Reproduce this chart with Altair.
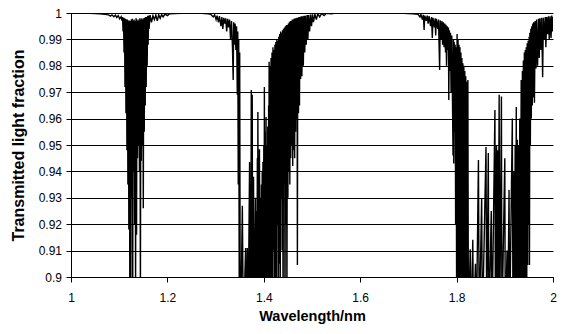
import altair as alt
import pandas as pd

# ---- data (wavelength, transmitted fraction) ----
WL_START = [1.000, 1.020, 1.040, 1.060, 1.070, 1.078, 1.082, 1.085, 1.089, 1.092,
            1.095, 1.098, 1.101, 1.104, 1.106]
TR_START = [1.0000, 0.9999, 0.9999, 0.9997, 0.9995, 0.9993, 0.9988, 0.9993, 0.9986, 0.9992,
            0.9983, 0.9990, 0.9978, 0.9986, 0.9970]

WL_BAND1 = [1.107, 1.108, 1.109, 1.110, 1.111, 1.112, 1.113, 1.114, 1.115, 1.116,
            1.117, 1.118, 1.119, 1.120, 1.121, 1.122, 1.123, 1.124, 1.125, 1.126,
            1.127, 1.128, 1.129, 1.130, 1.131, 1.132, 1.133, 1.134, 1.135, 1.136,
            1.137, 1.138, 1.139, 1.140, 1.141, 1.142, 1.143, 1.144, 1.145, 1.146,
            1.147, 1.148, 1.149, 1.150, 1.151, 1.152, 1.153, 1.154, 1.155, 1.156,
            1.157, 1.158, 1.159, 1.160, 1.161, 1.162,
            1.164, 1.167, 1.170, 1.173, 1.176, 1.179, 1.182, 1.185, 1.188, 1.191,
            1.195, 1.200, 1.205, 1.215, 1.230, 1.250, 1.270, 1.285]
TR_BAND1 = [0.9985, 0.9930, 0.9982, 0.9850, 0.9980, 0.9720, 0.9978, 0.9620, 0.9975, 0.9480,
            0.9975, 0.9350, 0.9972, 0.9180, 0.9972, 0.8950, 0.9970, 0.8900, 0.9975, 0.9300,
            0.9978, 0.8900, 0.9972, 0.9400, 0.9975, 0.9200, 0.9970, 0.8950, 0.9980, 0.9160,
            0.9975, 0.9450, 0.9970, 0.9500, 0.9975, 0.9400, 0.9980, 0.8900, 0.9975, 0.9440,
            0.9980, 0.9500, 0.9975, 0.9260, 0.9980, 0.9550, 0.9982, 0.9650, 0.9985, 0.9720,
            0.9985, 0.9800, 0.9990, 0.9880, 0.9990, 0.9940,
            0.9992, 0.9965, 0.9990, 0.9975, 0.9992, 0.9970, 0.9993, 0.9980, 0.9994, 0.9985,
            0.9996, 0.9990, 0.9997, 0.9998, 0.9999, 1.0000, 0.9999, 0.9997]

WL_BAND2_LEFT = [1.2900, 1.2950, 1.2980, 1.3010, 1.3030, 1.3060, 1.3080, 1.3110, 1.3130, 1.3150,
                 1.3170, 1.3190, 1.3210, 1.3230, 1.3250, 1.3270, 1.3290, 1.3310, 1.3330, 1.3350,
                 1.3365, 1.3375, 1.3390, 1.3405, 1.3420, 1.3435, 1.3450, 1.3460, 1.3470, 1.3480,
                 1.3490, 1.3500, 1.3510]
TR_BAND2_LEFT = [0.9995, 0.9985, 0.9993, 0.9975, 0.9990, 0.9965, 0.9988, 0.9950, 0.9985, 0.9940,
                 0.9982, 0.9960, 0.9980, 0.9930, 0.9978, 0.9945, 0.9975, 0.9900, 0.9970, 0.9870,
                 0.9746, 0.9965, 0.9880, 0.9960, 0.9860, 0.9950, 0.9690, 0.9930, 0.9350, 0.9900,
                 0.8950, 0.9850, 0.8900]

WL_BAND2_CORE = [1.3520, 1.3555, 1.3575, 1.3623, 1.3640, 1.3658, 1.3675, 1.3705, 1.3712, 1.3722,
                 1.3730, 1.3740, 1.3750, 1.3760, 1.3770, 1.3787, 1.3800, 1.3828, 1.3840, 1.3850,
                 1.3858, 1.3866, 1.3872, 1.3877, 1.3890, 1.3910, 1.3920, 1.3935, 1.3942, 1.3950,
                 1.3958, 1.3967, 1.3974, 1.3982, 1.3990, 1.4000, 1.4006, 1.4012, 1.4020, 1.4030,
                 1.4038, 1.4047, 1.4055, 1.4065, 1.4072, 1.4082, 1.4090, 1.4100, 1.4105]
TR_BAND2_CORE = [0.880, 0.927, 0.880, 0.911, 0.880, 0.911, 0.880, 0.9436, 0.880, 0.935,
                 0.880, 0.9708, 0.880, 0.969, 0.880, 0.938, 0.880, 0.930, 0.880, 0.925,
                 0.880, 0.945, 0.880, 0.9625, 0.880, 0.9484, 0.880, 0.930, 0.880, 0.935,
                 0.880, 0.940, 0.880, 0.9436, 0.880, 0.950, 0.880, 0.972, 0.880, 0.955,
                 0.880, 0.9606, 0.880, 0.950, 0.880, 0.957, 0.880, 0.965, 0.880]

WL_BAND2_RIGHT = [1.4110, 1.4120, 1.4130, 1.4140, 1.4150, 1.4160, 1.4170, 1.4180, 1.4190, 1.4200,
                  1.4210, 1.4220, 1.4230, 1.4240, 1.4250, 1.4260, 1.4270, 1.4280, 1.4290, 1.4300,
                  1.4310, 1.4320, 1.4330, 1.4340, 1.4350, 1.4360, 1.4370, 1.4380, 1.4390, 1.4400,
                  1.4410, 1.4420, 1.4430, 1.4440, 1.4450, 1.4460, 1.4470, 1.4480, 1.4490, 1.4500,
                  1.4510, 1.4520, 1.4530, 1.4540, 1.4550, 1.4560, 1.4570, 1.4580, 1.4590, 1.4600,
                  1.4610, 1.4620, 1.4630, 1.4640, 1.4650, 1.4660, 1.4670, 1.4680, 1.4690, 1.4697,
                  1.4705, 1.4720, 1.4730, 1.4740, 1.4750, 1.4764, 1.4775, 1.4790, 1.4805, 1.4820,
                  1.4835, 1.4850, 1.4865, 1.4880, 1.4900, 1.4915, 1.4930, 1.4950, 1.4970, 1.4990,
                  1.5010, 1.5030, 1.5060, 1.5090, 1.5120, 1.5160, 1.5200, 1.5250, 1.5300, 1.5400,
                  1.5500]
TR_BAND2_RIGHT = [0.9815, 0.8800, 0.9800, 0.8800, 0.9830, 0.8900, 0.9850, 0.8800, 0.9870, 0.9100,
                  0.9860, 0.8800, 0.9880, 0.9000, 0.9890, 0.8800, 0.9900, 0.9200, 0.9895, 0.8800,
                  0.9910, 0.9050, 0.9920, 0.8800, 0.9930, 0.9300, 0.9925, 0.9100, 0.9935, 0.8800,
                  0.9940, 0.9350, 0.9945, 0.8800, 0.9950, 0.9200, 0.9955, 0.8900, 0.9955, 0.9300,
                  0.9960, 0.9400, 0.9965, 0.9350, 0.9970, 0.9450, 0.9970, 0.9500, 0.9975, 0.9420,
                  0.9975, 0.9480, 0.9978, 0.9450, 0.9980, 0.9550, 0.9980, 0.9600, 0.9982, 0.9045,
                  0.9982, 0.9620, 0.9985, 0.9650, 0.9985, 0.9750, 0.9988, 0.9760, 0.9988, 0.9800,
                  0.9990, 0.9850, 0.9990, 0.9880, 0.9992, 0.9900, 0.9992, 0.9930, 0.9994, 0.9950,
                  0.9995, 0.9965, 0.9996, 0.9975, 0.9997, 0.9985, 0.9998, 0.9990, 0.9999, 0.9997,
                  1.0000]

WL_MID = [1.5700, 1.6000, 1.6500, 1.6900, 1.7100, 1.7200]
TR_MID = [1.0000, 1.0000, 1.0000, 0.9999, 0.9997, 0.9995]

WL_BAND3_LEFT = [1.7240, 1.7260, 1.7290, 1.7310, 1.7326, 1.7340, 1.7370, 1.7390, 1.7410, 1.7430,
                 1.7460, 1.7480, 1.7496, 1.7510, 1.7540, 1.7555, 1.7566, 1.7580, 1.7610, 1.7625,
                 1.7648, 1.7660, 1.7680, 1.7695, 1.7710, 1.7725, 1.7740, 1.7755, 1.7770, 1.7780,
                 1.7791, 1.7805, 1.7820, 1.7830, 1.7838, 1.7850, 1.7860, 1.7873, 1.7885, 1.7900,
                 1.7910, 1.7926, 1.7935, 1.7941, 1.7950, 1.7960, 1.7970, 1.7980, 1.7990, 1.8000]
TR_BAND3_LEFT = [0.9985, 0.9995, 0.9975, 0.9993, 0.9936, 0.9990, 0.9970, 0.9990, 0.9960, 0.9988,
                 0.9950, 0.9985, 0.9905, 0.9982, 0.9945, 0.9980, 0.9915, 0.9978, 0.9940, 0.9975,
                 0.9784, 0.9972, 0.9900, 0.9970, 0.9880, 0.9965, 0.9870, 0.9960, 0.9850, 0.9955,
                 0.9800, 0.9950, 0.9860, 0.9945, 0.9670, 0.9935, 0.9780, 0.9925, 0.9700, 0.9915,
                 0.9750, 0.9460, 0.9900, 0.9430, 0.9890, 0.9550, 0.9880, 0.9200, 0.9870, 0.8950]

WL_BAND3_DENSE = [1.8010, 1.8020, 1.8030, 1.8040, 1.8050, 1.8060, 1.8070, 1.8080, 1.8090, 1.8100,
                  1.8110, 1.8120, 1.8130, 1.8140, 1.8150, 1.8160, 1.8170, 1.8180, 1.8190, 1.8200,
                  1.8210, 1.8220, 1.8234, 1.8245]
TR_BAND3_DENSE = [0.9920, 0.8800, 0.9900, 0.8800, 0.9880, 0.8800, 0.9870, 0.8800, 0.9850, 0.8800,
                  0.9830, 0.8800, 0.9810, 0.8800, 0.9800, 0.8800, 0.9780, 0.8800, 0.9760, 0.8800,
                  0.9740, 0.8800, 0.9746, 0.8800]

WL_BAND3_CORE = [1.8283, 1.8300, 1.8336, 1.8350, 1.8391, 1.8410, 1.8453, 1.8470, 1.8520, 1.8535,
                 1.8610, 1.8625, 1.8658, 1.8670, 1.8719, 1.8735, 1.8795, 1.8805, 1.8828, 1.8840,
                 1.8850, 1.8860, 1.8883, 1.8895, 1.8930, 1.8940, 1.9000, 1.9010, 1.9047, 1.9060,
                 1.9088, 1.9100, 1.9156, 1.9170, 1.9190, 1.9200, 1.9215, 1.9225, 1.9238, 1.9250,
                 1.9260, 1.9270, 1.9285, 1.9295, 1.9310, 1.9320, 1.9340, 1.9350]
TR_BAND3_CORE = [0.9105, 0.880, 0.9141, 0.880, 0.9050, 0.880, 0.9443, 0.880, 0.9299, 0.880,
                 0.9492, 0.880, 0.9470, 0.880, 0.9250, 0.880, 0.9633, 0.880, 0.9500, 0.880,
                 0.9480, 0.880, 0.9690, 0.880, 0.9684, 0.880, 0.9450, 0.880, 0.9100, 0.880,
                 0.9330, 0.880, 0.9600, 0.880, 0.9400, 0.880, 0.9500, 0.880, 0.9644, 0.880,
                 0.9520, 0.880, 0.9500, 0.880, 0.9600, 0.880, 0.9746, 0.880]

WL_BAND3_RIGHT = [1.9365, 1.9375, 1.9385, 1.9395, 1.9405, 1.9415, 1.9425, 1.9435, 1.9445, 1.9455,
                  1.9465, 1.9475, 1.9485, 1.9495, 1.9505, 1.9512, 1.9520, 1.9530, 1.9540, 1.9550,
                  1.9560, 1.9570, 1.9580, 1.9590, 1.9600, 1.9615, 1.9630, 1.9647, 1.9660, 1.9680,
                  1.9700, 1.9715, 1.9730, 1.9750, 1.9765, 1.9785, 1.9800, 1.9820, 1.9840, 1.9852,
                  1.9870, 1.9890, 1.9905, 1.9922, 1.9940, 1.9960, 1.9975, 1.9990, 2.0000]
TR_BAND3_RIGHT = [0.9780, 0.8800, 0.9820, 0.8800, 0.9850, 0.8800, 0.9860, 0.8800, 0.9870, 0.8900,
                  0.9885, 0.9045, 0.9895, 0.9200, 0.9910, 0.9045, 0.9925, 0.9500, 0.9940, 0.9600,
                  0.9950, 0.9650, 0.9960, 0.9680, 0.9965, 0.9660, 0.9970, 0.9790, 0.9975, 0.9800,
                  0.9978, 0.9830, 0.9980, 0.9860, 0.9982, 0.9757, 0.9982, 0.9900, 0.9985, 0.9870,
                  0.9985, 0.9920, 0.9988, 0.9900, 0.9988, 0.9905, 0.9990, 0.9930, 0.9985]

X_TICKS = [1, 1.2, 1.4, 1.6, 1.8, 2]
Y_TICKS = [0.9, 0.91, 0.92, 0.93, 0.94, 0.95, 0.96, 0.97, 0.98, 0.99, 1.0]

segments = [
    (WL_START, TR_START), (WL_BAND1, TR_BAND1), (WL_BAND2_LEFT, TR_BAND2_LEFT),
    (WL_BAND2_CORE, TR_BAND2_CORE), (WL_BAND2_RIGHT, TR_BAND2_RIGHT), (WL_MID, TR_MID),
    (WL_BAND3_LEFT, TR_BAND3_LEFT), (WL_BAND3_DENSE, TR_BAND3_DENSE),
    (WL_BAND3_CORE, TR_BAND3_CORE), (WL_BAND3_RIGHT, TR_BAND3_RIGHT),
]
wl, tr = [], []
for w, t in segments:
    assert len(w) == len(t)
    wl += w
    tr += t
df = pd.DataFrame({"wl": wl, "tr": tr, "i": list(range(len(wl)))})

FONT = "Liberation Sans"

chart = alt.Chart(df).mark_line(color="black", strokeWidth=1.4, clip=True).encode(
    x=alt.X("wl:Q",
            scale=alt.Scale(domain=[1, 2], nice=False, zero=False),
            axis=alt.Axis(values=X_TICKS, format="~g", title="Wavelength/nm", grid=False,
                          tickSize=5, labelPadding=10, titlePadding=6, titleFontSize=14.5,
                          labelFlush=False)),
    y=alt.Y("tr:Q",
            scale=alt.Scale(domain=[0.9, 1.0], nice=False, zero=False),
            axis=alt.Axis(values=Y_TICKS, format=".2~f", title="Transmitted light fraction",
                          grid=True, gridColor="black", gridWidth=1, gridOpacity=1,
                          tickSize=5, labelPadding=4.5, titlePadding=12, titleFontSize=16)),
    order=alt.Order("i:Q"),
).properties(
    width=482,
    height=264,
    autosize=alt.AutoSizeParams(type="none"),
    padding={"left": 63, "top": 5, "right": 4, "bottom": 49},
).configure_axis(
    labelFont=FONT, titleFont=FONT, labelFontSize=12, labelColor="black",
    titleColor="black", titleFontWeight="bold", domainColor="black", tickColor="black",
    domainWidth=1, tickWidth=1,
).configure_view(strokeWidth=0)

chart.save("out.html", embed_options={"renderer": "svg", "actions": False})
